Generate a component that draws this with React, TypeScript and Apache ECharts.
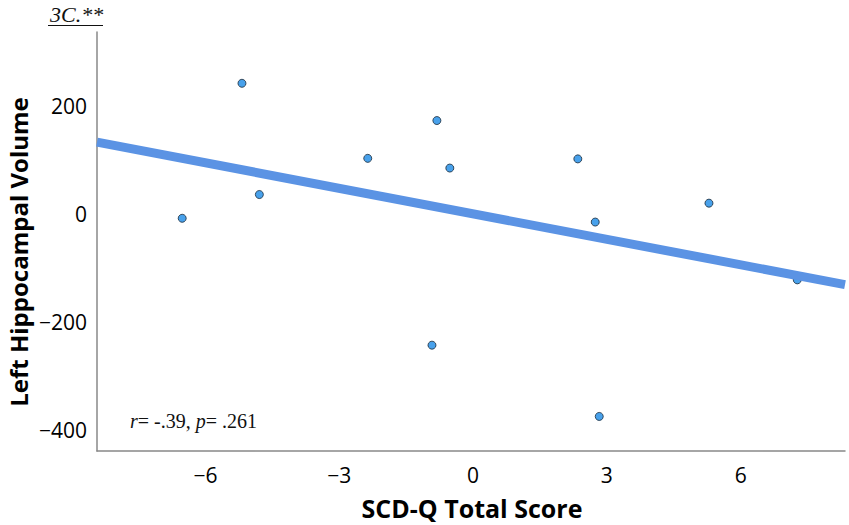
import React, { useEffect, useRef } from "react";
import * as echarts from "echarts";

const scdqScore = [-5.18, -0.81, -2.36, -0.52, -4.79, -6.52, 2.35, 2.74, 5.29, 7.27, -0.92, 2.83];
const hippoVolume = [242, 173, 103, 85, 36, -8, 102, -15, 20, -122, -243, -375];
const fitX = [-8.43, 8.34];
const fitY = [133, -131];
const xTicks = [-6, -3, 0, 3, 6];
const yTicks = [-400, -200, 0, 200];

export default function App() {
  const ref = useRef<HTMLDivElement>(null);
  useEffect(() => {
    const chart = echarts.init(ref.current!, null, { renderer: "svg" });
    const minus = (v: number) => String(v).replace("-", "\u2212");
    chart.setOption({
      animation: false,
      backgroundColor: "#fff",
      grid: { left: 97, top: 32, right: 4, bottom: 74, outerBoundsMode: "none", containLabel: false },
      xAxis: {
        type: "value",
        min: -8.43,
        max: 8.34,
        axisLine: { show: true, onZero: false, lineStyle: { color: "#888", width: 1.5 } },
        axisTick: { show: false },
        splitLine: { show: false },
        axisLabel: {
          customValues: xTicks,
          formatter: minus,
          fontFamily: "Open Sans",
          fontSize: 21,
          color: "#000",
          margin: 13,
        },
      },
      yAxis: {
        type: "value",
        min: -439,
        max: 337,
        axisLine: { show: true, onZero: false, lineStyle: { color: "#888", width: 1.5 } },
        axisTick: { show: false },
        splitLine: { show: false },
        axisLabel: {
          customValues: yTicks,
          formatter: minus,
          fontFamily: "Open Sans",
          fontSize: 21,
          color: "#000",
          margin: 10,
        },
      },
      series: [
        {
          type: "scatter",
          data: scdqScore.map((x, i) => [x, hippoVolume[i]]),
          symbolSize: 8,
          itemStyle: { color: "#1a8ae6", borderColor: "#1a2a3a", borderWidth: 1 },
          z: 2,
        },
        {
          type: "line",
          data: fitX.map((x, i) => [x, fitY[i]]),
          showSymbol: false,
          lineStyle: { color: "#5b93e4", width: 9 },
          z: 3,
        },
      ],
      graphic: [
        {
          type: "text",
          x: 472,
          y: 508,
          style: {
            text: "SCD-Q Total Score",
            font: "bold 25px 'Open Sans'",
            fill: "#000",
            align: "center",
            verticalAlign: "middle",
          },
        },
        {
          type: "text",
          x: 18,
          y: 252,
          rotation: Math.PI / 2,
          style: {
            text: "Left Hippocampal Volume",
            font: "bold 24px 'Open Sans'",
            fill: "#000",
            align: "center",
            verticalAlign: "middle",
          },
        },
        {
          type: "text",
          left: 50,
          top: 3,
          style: {
            text: "3C.**",
            font: "italic 22px 'Liberation Serif'",
            fill: "#111",
          },
        },
        {
          type: "line",
          shape: { x1: 48, y1: 25.5, x2: 103, y2: 25.5 },
          style: { stroke: "#111", lineWidth: 1.2 },
        },
        {
          type: "text",
          left: 130,
          top: 411,
          style: {
            text: "{i|r}= -.39, {i|p}= .261",
            font: "20px 'Liberation Serif'",
            fill: "#111",
            rich: {
              i: { fontStyle: "italic", fontFamily: "Liberation Serif", fontSize: 20, fill: "#111" },
            },
          },
        },
      ],
    });
    return () => chart.dispose();
  }, []);
  return <div ref={ref} style={{ width: 849, height: 525, position: "absolute", left: 0, top: 0 }} />;
}
